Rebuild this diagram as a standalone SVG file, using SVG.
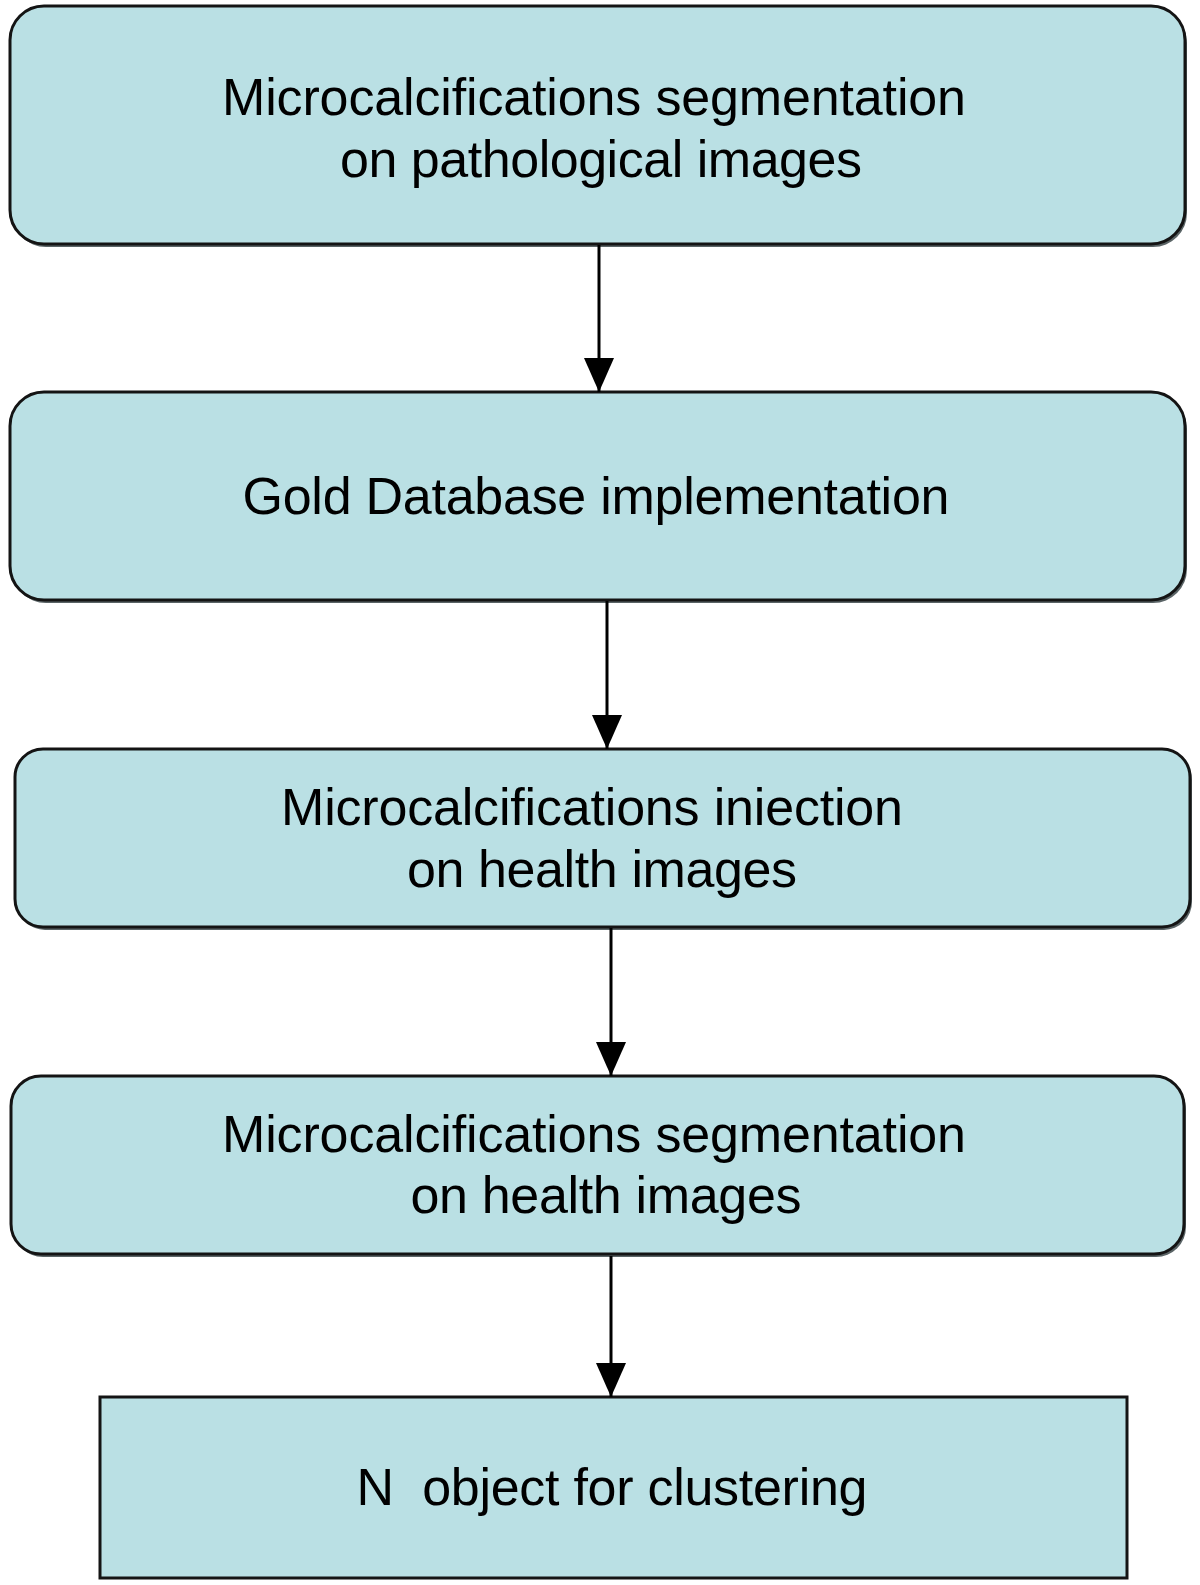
<svg xmlns="http://www.w3.org/2000/svg" width="1200" height="1585" viewBox="0 0 1200 1585">
<style>
.box{fill:#bae0e4;stroke:#141414;stroke-width:3}
.shadow{fill:#5a6466}
.t{font-family:"Liberation Sans",Arial,sans-serif;font-size:52px;fill:#000;text-anchor:middle}
.conn{stroke:#000;stroke-width:3;fill:none}
</style>
<defs>
<marker id="ah" markerWidth="34" markerHeight="30" refX="34" refY="15" orient="auto" markerUnits="userSpaceOnUse" viewBox="0 0 34 30">
<path d="M0,0 L34,15 L0,30 Z" fill="#000"/>
</marker>
</defs>
<rect width="1200" height="1585" fill="#fff"/>
<g id="node1">
<rect class="shadow" x="12" y="9" width="1175" height="238" rx="34"/>
<rect class="box" x="10" y="6" width="1175" height="238" rx="34"/>
<text class="t" x="594" y="115" textLength="744" lengthAdjust="spacing">Microcalcifications segmentation</text>
<text class="t" x="601" y="177" textLength="522" lengthAdjust="spacing">on pathological images</text>
</g>
<g id="node2">
<rect class="shadow" x="12" y="395" width="1175" height="208" rx="34"/>
<rect class="box" x="10" y="392" width="1175" height="208" rx="34"/>
<text class="t" x="596" y="514" textLength="707" lengthAdjust="spacing">Gold Database implementation</text>
</g>
<g id="node3">
<rect class="shadow" x="17" y="752" width="1175" height="178" rx="28"/>
<rect class="box" x="15" y="749" width="1175" height="178" rx="28"/>
<text class="t" x="592" y="825" textLength="622" lengthAdjust="spacing">Microcalcifications iniection</text>
<text class="t" x="602" y="887" textLength="390" lengthAdjust="spacing">on health images</text>
</g>
<g id="node4">
<rect class="shadow" x="13" y="1079" width="1173" height="178" rx="30"/>
<rect class="box" x="11" y="1076" width="1173" height="178" rx="30"/>
<text class="t" x="594" y="1152" textLength="744" lengthAdjust="spacing">Microcalcifications segmentation</text>
<text class="t" x="606" y="1213" textLength="391" lengthAdjust="spacing">on health images</text>
</g>
<g id="node5">
<rect class="box" x="100" y="1397" width="1027" height="181"/>
<text class="t" x="612" y="1505" textLength="511" lengthAdjust="spacing" xml:space="preserve">N  object for clustering</text>
</g>
<g id="connectors">
<line class="conn" x1="599" y1="245" x2="599" y2="392" marker-end="url(#ah)"/>
<line class="conn" x1="607" y1="601" x2="607" y2="749" marker-end="url(#ah)"/>
<line class="conn" x1="611" y1="928" x2="611" y2="1076" marker-end="url(#ah)"/>
<line class="conn" x1="611" y1="1256" x2="611" y2="1397" marker-end="url(#ah)"/>
</g>
</svg>
